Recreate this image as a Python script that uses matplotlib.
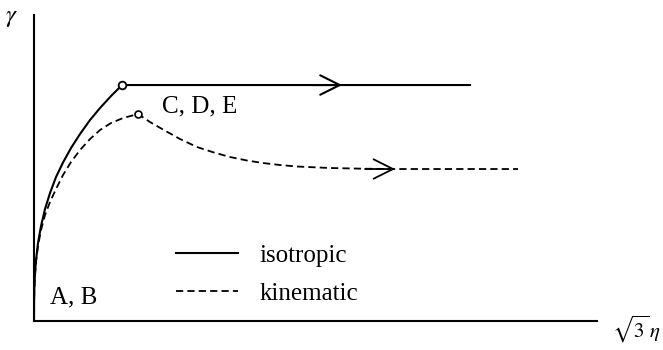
import matplotlib.pyplot as plt

plt.rcParams['font.family'] = ['Liberation Serif', 'DejaVu Serif']
plt.rcParams['mathtext.fontset'] = 'stix'

# isotropic hardening path: rise from A,B to the yield point, then flat
iso_x = [0.0, 0.001, 0.003, 0.006, 0.01, 0.02, 0.04, 0.07, 0.11, 0.16,
         0.22, 0.29, 0.37, 0.46, 0.56, 0.66, 0.77, 0.88, 4.36]
iso_y = [0.0, 0.21, 0.31, 0.40, 0.475, 0.61, 0.78, 0.95, 1.12, 1.28,
         1.44, 1.585, 1.73, 1.87, 2.01, 2.13, 2.25, 2.36, 2.36]

# kinematic hardening path: rise to a peak, then decay to a plateau
kin_x = [0.0, 0.001, 0.003, 0.006, 0.01, 0.02, 0.04, 0.07, 0.11, 0.16,
         0.22, 0.29, 0.37, 0.46, 0.56, 0.66, 0.77, 0.89, 1.04,
         1.16, 1.29, 1.46, 1.63, 1.80, 1.96, 2.13, 2.29, 2.46, 2.63,
         2.96, 3.30, 3.59, 4.84]
kin_y = [0.0, 0.20, 0.30, 0.39, 0.46, 0.59, 0.75, 0.91, 1.06, 1.19,
         1.32, 1.46, 1.59, 1.71, 1.82, 1.91, 1.98, 2.03, 2.07,
         1.99, 1.915, 1.82, 1.74, 1.685, 1.64, 1.605, 1.58, 1.56, 1.545,
         1.53, 1.523, 1.52, 1.52]

# peak points (C, D, E) and direction arrows
iso_peak = (0.88, 2.36)
kin_peak = (1.04, 2.07)
iso_arrow = (3.08, 2.36)
kin_arrow = (3.61, 1.52)

fig = plt.figure(figsize=(6.63, 3.5), dpi=100)
ax = fig.add_axes([0.0513, 0.0829, 0.8492, 0.8741])

dash = (0, (4, 2.3))
ax.plot(iso_x, iso_y, color='black', lw=1.5, label='isotropic')
ax.plot(kin_x, kin_y, color='black', lw=1.3, linestyle=dash, label='kinematic')

ax.plot(*iso_peak, 'o', ms=5.5, mfc='white', mec='black', mew=1.3, zorder=5)
ax.plot(*kin_peak, 'o', ms=5, mfc='white', mec='black', mew=1.2, zorder=5)

for (tip_x, tip_y), lw in ((iso_arrow, 1.5), (kin_arrow, 1.3)):
    ax.annotate('', xy=(tip_x, tip_y), xytext=(tip_x - 0.3, tip_y),
                arrowprops=dict(arrowstyle='->,head_length=1.4,head_width=0.7',
                                lw=lw, color='black', mutation_scale=10,
                                shrinkA=0, shrinkB=0))

ax.text(1.28, 2.15, 'C, D, E', fontsize=18, va='center', ha='left')
ax.text(0.16, 0.24, 'A, B', fontsize=18, va='center', ha='left')

ax.text(-0.23, 3.03, r'$\gamma$', fontsize=18, ha='center', va='center', clip_on=False)
ax.text(6.27, -0.08, r'$\sqrt{3}\,\eta$', fontsize=15, ha='right', va='center', clip_on=False)

ax.set_xlim(0, 5.63)
ax.set_ylim(0, 3.06)
ax.spines['top'].set_visible(False)
ax.spines['right'].set_visible(False)
ax.spines['left'].set_linewidth(1.5)
ax.spines['bottom'].set_linewidth(1.5)
ax.set_xticks([])
ax.set_yticks([])

ax.legend(loc='upper left', bbox_to_anchor=(0.252, 0.25), frameon=False,
          fontsize=18, handlelength=2.5, handletextpad=0.85, labelspacing=0.62,
          borderpad=0, borderaxespad=0)

fig.savefig('out.png', dpi=100)
